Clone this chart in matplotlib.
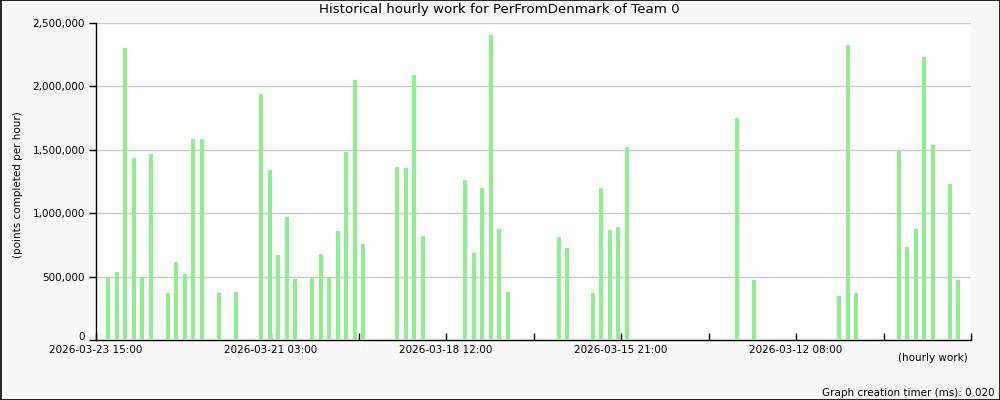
import numpy as np
import matplotlib.pyplot as plt
from matplotlib.ticker import FuncFormatter
from matplotlib.patches import Rectangle

# Bar slots (one slot per sample, newest on the left) and points per hour
slots = [0, 1, 2, 3, 4, 5, 7, 8, 9, 10, 11, 13, 15, 18, 19, 20, 21, 22,
         24, 25, 26, 27, 28, 29, 30, 34, 35, 36, 37, 42, 43, 44, 45, 46, 47,
         53, 54, 57, 58, 59, 60, 61, 74, 76, 86, 87, 88,
         93, 94, 95, 96, 97, 99, 100]
values = [487000, 534000, 2306000, 1432000, 500000, 1463000, 369000, 612000,
          518000, 1589000, 1589000, 369000, 377000, 1943000, 1337000, 668000,
          967000, 479000,
          494000, 676000, 494000, 857000, 1486000, 2053000, 754000,
          1361000, 1353000, 2093000, 817000,
          1258000, 683000, 1195000, 2408000, 872000, 377000,
          810000, 723000, 369000, 1195000, 865000, 888000, 1525000,
          1754000, 471000, 345000, 2329000, 369000,
          1494000, 731000, 872000, 2234000, 1534000, 1234000, 471000]

tick_labels = ["2026-03-23 15:00", "", "2026-03-21 03:00", "", "2026-03-18 12:00", "",
               "2026-03-15 21:00", "", "2026-03-12 08:00", "", ""]

# axis geometry in slot units
x_min, x_max = -10 / 8.5, 865 / 8.5
tick_step = (x_max - x_min) / 10

fig = plt.figure(figsize=(10, 4), dpi=100, facecolor="#f8f8f8")
ax = fig.add_axes([0.096, 0.15, 0.875, 0.7925])
ax.set_facecolor("white")

ax.bar(slots, values, width=4 / 8.5, align="edge", color="#90ee90", zorder=3)

ax.set_xlim(x_min, x_max)
ax.set_ylim(0, 2500000)
ax.set_yticks(np.arange(0, 2500001, 500000))
ax.yaxis.set_major_formatter(FuncFormatter(lambda v, p: f"{v:,.0f}"))
ax.set_xticks([x_min + k * tick_step for k in range(11)])
ax.set_xticklabels(tick_labels)

ax.grid(axis="y", color="#c8c8c8", linewidth=1, zorder=1)
for side in ["top", "right"]:
    ax.spines[side].set_visible(False)
for side in ["left", "bottom"]:
    ax.spines[side].set_color("black")
    ax.spines[side].set_linewidth(1)
ax.tick_params(axis="y", direction="out", length=5, width=1, labelsize=7.5, pad=3)
ax.tick_params(axis="x", direction="in", length=5, width=1, labelsize=7.5, pad=3.5)
# the "0" label sits on the axis line, above the first date
ax.get_yticklabels()[0].set_va("baseline")

fig.text(0.499, 0.975, "Historical hourly work for PerFromDenmark of Team 0",
         ha="center", va="center", fontsize=9.6)
fig.text(0.018, 0.5375, "(points completed per hour)", rotation=90,
         ha="center", va="center", fontsize=7.5)
fig.text(0.968, 0.105, "(hourly work)", ha="right", va="center", fontsize=7.5)
fig.text(0.995, 0.018, "Graph creation timer (ms): 0.020", ha="right",
         va="center", fontsize=7.5)

fig.patches.append(Rectangle((0.0005, 0.001), 0.999, 0.998, transform=fig.transFigure,
                             fill=False, edgecolor="black", linewidth=1.2))

fig.savefig("out.png", dpi=100, facecolor=fig.get_facecolor())
